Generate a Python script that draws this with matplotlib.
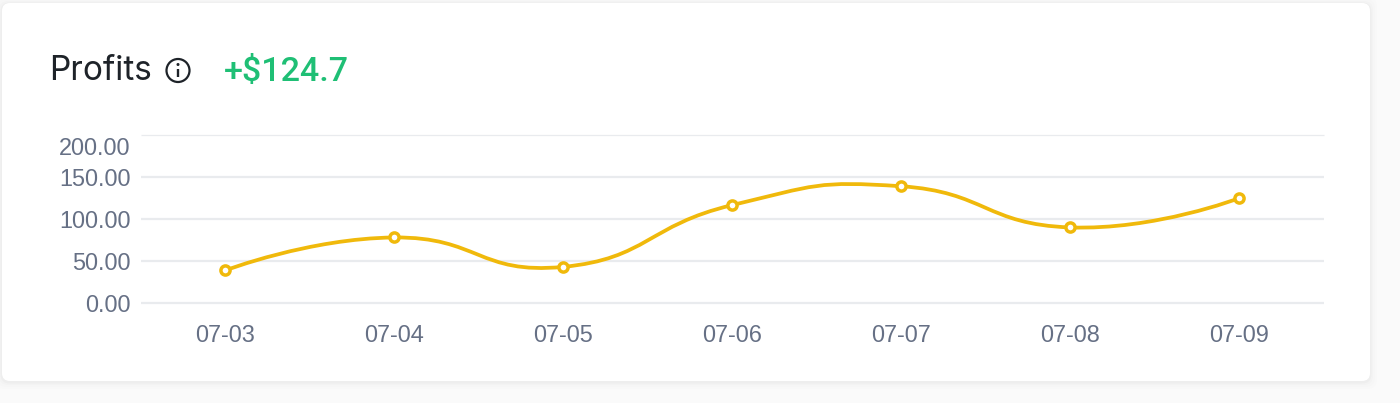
import numpy as np
import matplotlib
matplotlib.use("Agg")
import matplotlib.pyplot as plt
from matplotlib.patches import FancyBboxPatch, Circle, PathPatch
from matplotlib.path import Path
from matplotlib.transforms import ScaledTranslation

dates = ["07-03", "07-04", "07-05", "07-06", "07-07", "07-08", "07-09"]
profits = [38.7, 78.0, 43.0, 116.5, 139.0, 90.0, 124.7]
y_ticks = [0, 50, 100, 150, 200]

W, H = 1400, 403
YELLOW = "#f0b90b"
GREY = "#667085"
GRID = "#e9ebee"

fig = plt.figure(figsize=(W / 100, H / 100), dpi=100, facecolor="#fafafa")

# background layer in pixel coords, y pointing down
bg = fig.add_axes([0, 0, 1, 1])
bg.set_xlim(0, W)
bg.set_ylim(H, 0)
bg.axis("off")

# card shadow
for grow, alpha in [(7, 0.006), (5, 0.008), (3, 0.012), (1.5, 0.018)]:
    bg.add_patch(FancyBboxPatch((2 - grow, 3 - grow + 1), 1368 + 2 * grow, 378 + 2 * grow,
                                boxstyle="round,pad=0,rounding_size=9",
                                fc="black", ec="none", alpha=alpha))
bg.add_patch(FancyBboxPatch((2, 3), 1368, 378, boxstyle="round,pad=0,rounding_size=8",
                            fc="white", ec="none"))

bg.text(49, 80, "Profits", fontsize=24, family="Inter", color="#1e2329", va="baseline")
bg.text(224, 80.5, "+$124.7", fontsize=24.5, family="Roboto", weight="medium", color="#1fbf75",
        va="baseline")

# info icon
bg.add_patch(Circle((178, 70.5), 11.5, fc="none", ec="#1e2329", lw=1.6))
bg.plot([178, 178], [69, 77], color="#1e2329", lw=1.7, solid_capstyle="butt")
bg.add_patch(Circle((178, 64.5), 1.5, fc="#1e2329", ec="none"))

# chart
ax = fig.add_axes([141 / W, 1 - 303 / H, 1183 / W, 168 / H], facecolor="none")
x = np.arange(len(dates))
ax.set_xlim(-0.497, 6.503)
ax.set_ylim(0, 200)
for s in ax.spines.values():
    s.set_visible(False)

ax.set_yticks(y_ticks)
ax.set_yticklabels([f"{v:.2f}" for v in y_ticks])
ax.set_xticks(x)
ax.set_xticklabels(dates)
ax.tick_params(length=0, labelsize=16.9, labelcolor=GREY)
ax.tick_params(axis="y", pad=7.5)
ax.tick_params(axis="x", pad=15)
for lab in ax.get_xticklabels() + ax.get_yticklabels():
    lab.set_family("Liberation Sans")

# top label sits below its gridline
top = ax.get_yticklabels()[-1]
top.set_transform(top.get_transform() + ScaledTranslation(0, -11 / 100, fig.dpi_scale_trans))

for v in y_ticks:
    ax.axhline(v, color=GRID, lw=0.9 if v == 200 else 1.6, zorder=1, clip_on=False,
               solid_capstyle="butt")

# smooth line, bezier handles from neighbouring points
xs = x.astype(float)
ys = np.array(profits)
verts = [(xs[0], ys[0])]
codes = [Path.MOVETO]
for i in range(len(xs) - 1):
    if i == 0:
        c1 = (xs[i], ys[i])
    else:
        c1 = (xs[i] + 0.25 * (xs[i + 1] - xs[i - 1]), ys[i] + 0.25 * (ys[i + 1] - ys[i - 1]))
    if i + 2 == len(xs):
        c2 = (xs[i + 1], ys[i + 1])
    else:
        c2 = (xs[i + 1] - 0.25 * (xs[i + 2] - xs[i]), ys[i + 1] - 0.25 * (ys[i + 2] - ys[i]))
    verts += [c1, c2, (xs[i + 1], ys[i + 1])]
    codes += [Path.CURVE4] * 3
ax.add_patch(PathPatch(Path(verts, codes), fc="none", ec=YELLOW, lw=2.7, zorder=3))
ax.plot(xs, ys, ls="none", marker="o", ms=6.6, mfc="white", mec=YELLOW, mew=2.5, zorder=4, clip_on=False)

fig.savefig("out.png", dpi=100, facecolor=fig.get_facecolor())
